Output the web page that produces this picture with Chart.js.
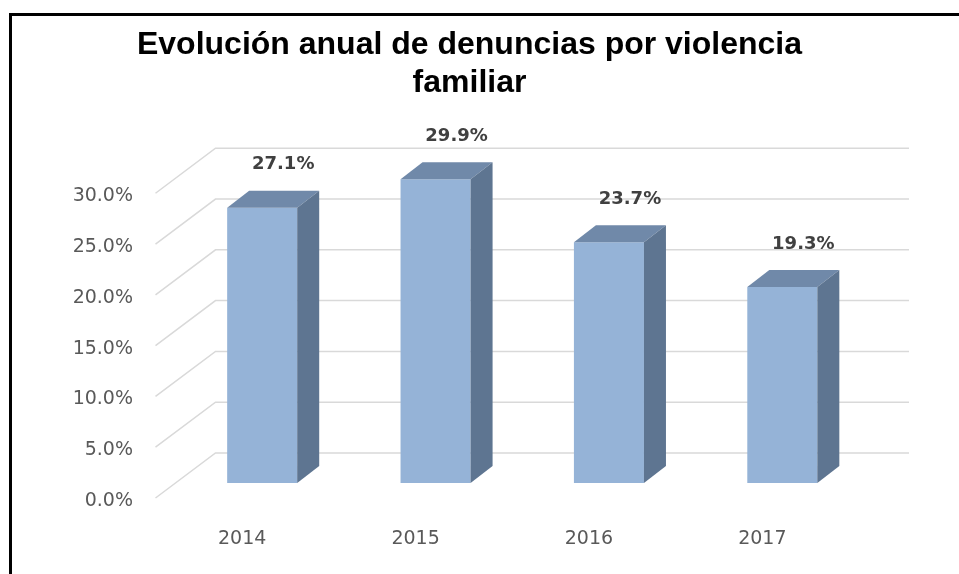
<!DOCTYPE html>
<html>
<head>
<meta charset="utf-8">
<script src="https://cdn.jsdelivr.net/npm/chart.js@4.4.1/dist/chart.umd.min.js"></script>
<style>
  html, body { margin: 0; padding: 0; background: #fff; overflow: hidden; }
  #frame {
    position: absolute; left: 9px; top: 13px;
    width: 1000px; height: 640px;
    border: 3px solid #000; pointer-events: none;
  }
  #chart { position: absolute; left: 0; top: 0; }
</style>
</head>
<body>
<canvas id="chart" width="959" height="574"></canvas>
<div id="frame"></div>
<script>
const years = ['2014', '2015', '2016', '2017'];
const rates = [27.1, 29.9, 23.7, 19.3];
const titleLines = ['Evolución anual de denuncias por violencia', 'familiar'];

const frontColor = '#95b3d7';
const topColor = '#7089a9';
const sideColor = '#5e7591';
const gridColor = '#d9d9d9';

// fake 3d: back wall sits deeper than the bar plane, ticks sit in front of it
const wallDx = 40, wallDy = -30;
const frontDx = -20, frontDy = 15;
const barDx = 22, barDy = -17;

const pct = (v) => v.toFixed(1) + '%';

const fake3d = {
  id: 'fake3d',
  beforeDatasetsDraw(chart) {
    const { ctx, chartArea, scales } = chart;
    const y = scales.y;
    ctx.save();
    ctx.strokeStyle = gridColor;
    ctx.lineWidth = 1.5;
    y.ticks.forEach((t) => {
      const py = y.getPixelForValue(t.value);
      ctx.beginPath();
      ctx.moveTo(chartArea.left + frontDx, py + frontDy);
      ctx.lineTo(chartArea.left + wallDx, py + wallDy);
      ctx.lineTo(chartArea.right + wallDx, py + wallDy);
      ctx.stroke();
    });
    ctx.restore();
  },
  afterDatasetsDraw(chart) {
    const { ctx } = chart;
    const meta = chart.getDatasetMeta(0);
    ctx.save();
    meta.data.forEach((bar, i) => {
      const l = bar.x - bar.width / 2;
      const r = bar.x + bar.width / 2;
      const top = bar.y;
      const base = bar.base;
      ctx.fillStyle = topColor;
      ctx.beginPath();
      ctx.moveTo(l, top);
      ctx.lineTo(r, top);
      ctx.lineTo(r + barDx, top + barDy);
      ctx.lineTo(l + barDx, top + barDy);
      ctx.closePath();
      ctx.fill();
      ctx.fillStyle = sideColor;
      ctx.beginPath();
      ctx.moveTo(r, top);
      ctx.lineTo(r + barDx, top + barDy);
      ctx.lineTo(r + barDx, base + barDy);
      ctx.lineTo(r, base);
      ctx.closePath();
      ctx.fill();

      ctx.fillStyle = '#404040';
      ctx.font = 'bold 18px "DejaVu Sans"';
      ctx.textAlign = 'center';
      ctx.textBaseline = 'middle';
      ctx.fillText(pct(rates[i]), bar.x + 21, top + barDy - 26);
    });
    ctx.restore();
  }
};

new Chart(document.getElementById('chart'), {
  type: 'bar',
  data: {
    labels: years,
    datasets: [{
      data: rates,
      backgroundColor: frontColor,
      borderWidth: 0,
      categoryPercentage: 1,
      barPercentage: 0.404
    }]
  },
  options: {
    responsive: false,
    animation: false,
    layout: { padding: { left: 70, right: 90, top: 0, bottom: 0 } },
    plugins: {
      legend: { display: false },
      tooltip: { enabled: false },
      title: {
        display: true,
        text: titleLines,
        color: '#000',
        font: { family: 'Liberation Sans', size: 32, weight: 'bold', lineHeight: 1.16 },
        padding: { top: 27, bottom: 77 }
      }
    },
    scales: {
      x: {
        grid: { display: false, drawTicks: false, tickLength: 0 },
        border: { display: false },
        ticks: {
          color: '#595959',
          font: { family: 'DejaVu Sans', size: 19 },
          padding: 45,
          labelOffset: frontDx
        },
        afterFit(scale) { scale.height = 91; }
      },
      y: {
        min: 0,
        max: 30,
        grid: { display: false, drawTicks: false, tickLength: 0 },
        border: { display: false },
        ticks: {
          stepSize: 5,
          color: '#595959',
          font: { family: 'DejaVu Sans', size: 19 },
          padding: 42.5,
          labelOffset: 18,
          callback: (v) => pct(v)
        },
        afterFit(scale) { scale.width = 105.5; }
      }
    }
  },
  plugins: [fake3d]
});
</script>
</body>
</html>
